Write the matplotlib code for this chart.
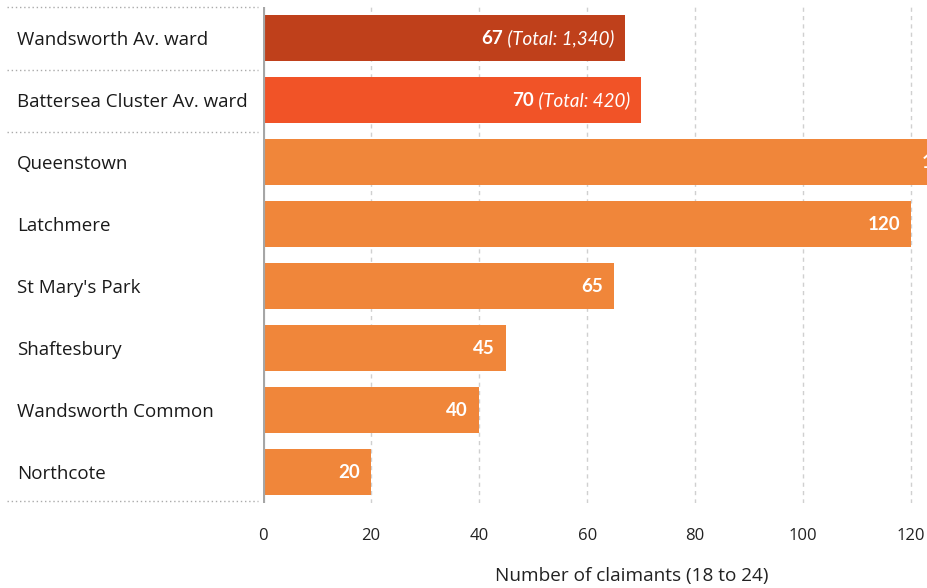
import matplotlib.pyplot as plt
from matplotlib.lines import Line2D

plt.rcParams['font.family'] = ['Open Sans', 'DejaVu Sans']

wards = ['Wandsworth Av. ward', 'Battersea Cluster Av. ward', 'Queenstown', 'Latchmere',
         "St Mary's Park", 'Shaftesbury', 'Wandsworth Common', 'Northcote']
claimants = [67, 70, 130, 120, 65, 45, 40, 20]
totals = ['1,340', '420', None, None, None, None, None, None]
colors = ['#BF401B', '#F15327', '#F0863A', '#F0863A', '#F0863A', '#F0863A', '#F0863A', '#F0863A']
ticks = [0, 20, 40, 60, 80, 100, 120]

W, H = 928, 588
fig = plt.figure(figsize=(W / 100, H / 100), dpi=100)
ax = fig.add_axes([263 / W, 1 - 503 / H, 1 - 263 / W, 496 / H])

y = list(range(len(wards)))
ax.barh(y, claimants, height=0.74, color=colors, zorder=2)
ax.set_xlim(0, 123.1)
ax.set_ylim(len(wards) - 0.5, -0.5)
ax.set_yticks([])
ax.set_xticks(ticks)
ax.tick_params(axis='x', length=0, pad=18, labelsize=12, labelcolor='#222222')
for s in ax.spines.values():
    s.set_visible(False)
ax.grid(axis='x', color='#d0d0d0', linestyle=(0, (3, 3)), linewidth=1, zorder=0)
ax.axvline(0, color='#a6a6a6', linewidth=3, zorder=3)

vfont = ['Lato', 'DejaVu Sans']
fig.canvas.draw()
r = fig.canvas.get_renderer()
pad = 11 / 5.4
for i, v in enumerate(claimants):
    if totals[i] is None:
        ax.text(v - pad, i, str(v), ha='right', va='center', color='white', family=vfont,
                fontsize=13.5, fontweight='bold', zorder=4, clip_on=False)
    else:
        t = ax.text(v - pad, i, ' (Total: %s)' % totals[i], ha='right', va='center',
                    color='white', family=vfont, fontsize=13.5, fontstyle='italic', zorder=4)
        bb = t.get_window_extent(r)
        x0 = ax.transData.inverted().transform((bb.x0, 0))[0]
        ax.text(x0, i, str(v), ha='right', va='center', color='white', family=vfont,
                fontsize=13.5, fontweight='bold', zorder=4)

# ward names on the left
for i, name in enumerate(wards):
    yy = 1 - (40 + 62 * i) / H
    fig.text(17 / W, yy, name, ha='left', va='center', fontsize=13.5, color='#1a1a1a')

for py in [7, 70, 132, 501]:
    fig.add_artist(Line2D([7 / W, 258 / W], [1 - py / H, 1 - py / H], color='#aaaaaa',
                          linestyle=(0, (1, 2)), linewidth=1))

fig.text(632 / W, 1 - 576 / H, 'Number of claimants (18 to 24)', ha='center', va='center',
         fontsize=13.7, color='#222222')

fig.savefig('out.png', dpi=100)
